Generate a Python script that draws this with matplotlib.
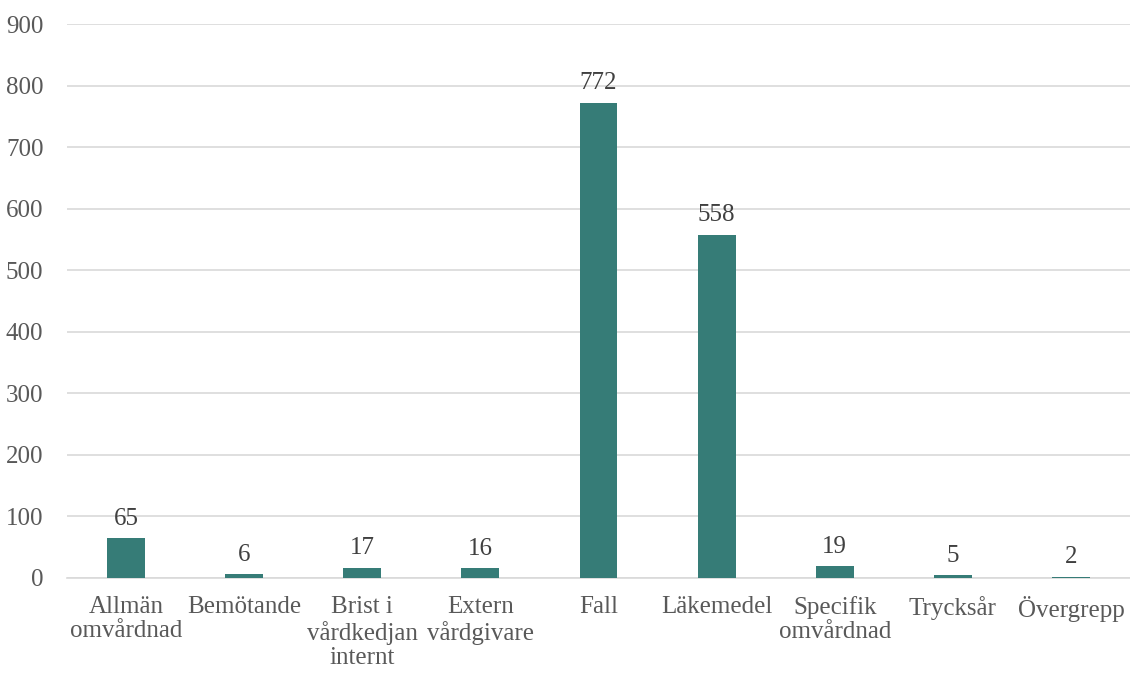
import matplotlib
matplotlib.use("Agg")
from matplotlib import pyplot as plt

categories = ["Allmän\nomvårdnad", "Bemötande", "Brist i\nvårdkedjan\ninternt", "Extern\nvårdgivare",
              "Fall", "Läkemedel", "Specifik\nomvårdnad", "Trycksår", "Övergrepp"]
values = [65, 6, 17, 16, 772, 558, 19, 5, 2]
yticks = [0, 100, 200, 300, 400, 500, 600, 700, 800, 900]

plt.rcParams['font.family'] = ['Liberation Serif', 'DejaVu Serif']

fig = plt.figure(figsize=(11.3, 6.73), dpi=100)
ax = fig.add_axes([0.0593, 0.1412, 0.9407, 0.8231])

x = range(len(categories))
ax.bar(x, values, width=0.32, color="#367C77", zorder=3)

for i, v in enumerate(values):
    ax.annotate(str(v), (i, v), xytext=(0, 6), textcoords="offset points",
                ha="center", va="bottom", fontsize=18, color="#404040")

ax.set_ylim(0, 900)
ax.set_xlim(-0.5, len(categories) - 0.5)
ax.set_yticks(yticks)
ax.set_xticks(list(x))
ax.set_xticklabels(categories, fontsize=18, color="#595959", linespacing=1.14)
ax.tick_params(axis="y", labelsize=18, labelcolor="#595959", length=0, pad=17)
ax.tick_params(axis="x", length=0, pad=13)
ax.grid(axis="y", color="#D9D9D9", linewidth=1.2, zorder=0)
for s in ["top", "right", "left"]:
    ax.spines[s].set_visible(False)
ax.spines["bottom"].set_color("#D9D9D9")
ax.spines["bottom"].set_linewidth(1.2)

plt.savefig("out.png")
